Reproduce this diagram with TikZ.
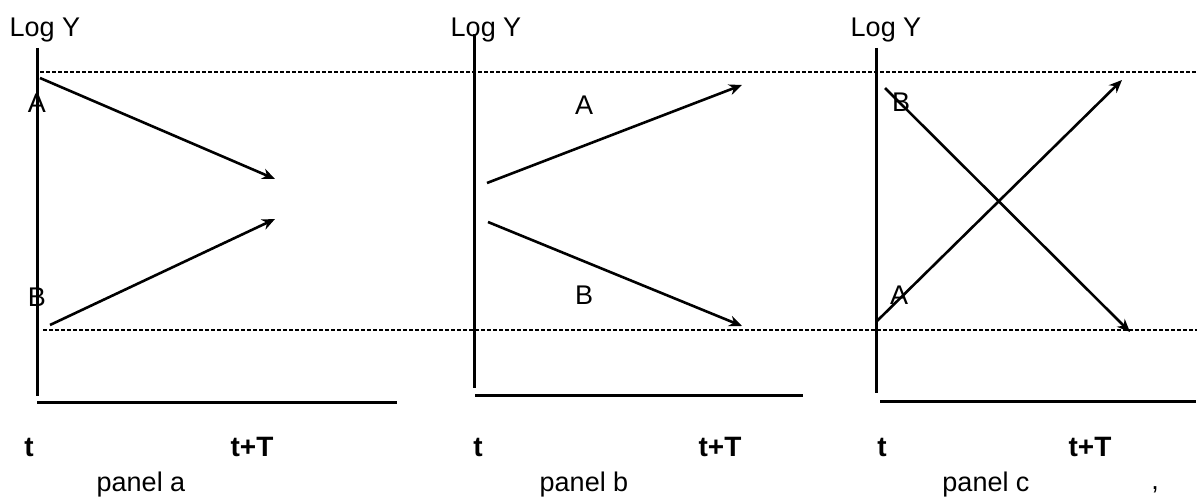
\documentclass[tikz,border=0pt]{standalone}
\usepackage{fontspec}
\setmainfont{Liberation Sans}
\usetikzlibrary{arrows.meta}
\begin{document}
\begin{tikzpicture}[x=1pt,y=-1pt,
  axis/.style={line width=3pt},
  guide/.style={line width=1.8pt,dash pattern=on 3.5pt off 2.5pt},
  trend/.style={line width=2.6pt,-{Stealth[length=13pt,width=11pt]}},
  lbl/.style={inner sep=0pt,font=\fontsize{27}{30}\selectfont},
  tlbl/.style={inner sep=0pt,font=\fontsize{28}{30}\selectfont\bfseries}]
\useasboundingbox (0,0) rectangle (1197,500);
% guide lines
\coordinate (g1s) at (40,72);  \coordinate (g1e) at (1197,72);
\coordinate (g2s) at (43,330); \coordinate (g2e) at (1197,330);
\draw[guide] (g1s) -- (g1e);
\draw[guide] (g2s) -- (g2e);
% panel a
\coordinate (ay0) at (37,48);  \coordinate (ay1) at (37,396);
\coordinate (ax0) at (37,402); \coordinate (ax1) at (397,402);
\draw[axis] (ay0) -- (ay1);
\draw[axis] (ax0) -- (ax1);
\coordinate (aA0) at (40,78);  \coordinate (aA1) at (275,179);
\coordinate (aB0) at (50,325); \coordinate (aB1) at (275,219);
\draw[trend] (aA0) -- (aA1);
\draw[trend] (aB0) -- (aB1);
\node[lbl] (aLog) at (45,30) {Log Y};
\node[lbl] (aA) at (37,103) {A};
\node[lbl] (aB) at (37,297) {B};
\node[tlbl] (at) at (29,447) {t};
\node[tlbl] (atT) at (252,447) {t+T};
\node[lbl] (ap) at (141,485) {panel a};
% panel b
\coordinate (by0) at (474,34);  \coordinate (by1) at (474,388);
\coordinate (bx0) at (475,395); \coordinate (bx1) at (803,395);
\draw[axis] (by0) -- (by1);
\draw[axis] (bx0) -- (bx1);
\coordinate (bA0) at (487,183); \coordinate (bA1) at (742,85);
\coordinate (bB0) at (488,222); \coordinate (bB1) at (742,326);
\draw[trend] (bA0) -- (bA1);
\draw[trend] (bB0) -- (bB1);
\node[lbl] (bLog) at (486,30) {Log Y};
\node[lbl] (bA) at (584,105) {A};
\node[lbl] (bB) at (584,295) {B};
\node[tlbl] (bt) at (478,447) {t};
\node[tlbl] (btT) at (720,447) {t+T};
\node[lbl] (bp) at (584,485) {panel b};
% panel c
\coordinate (cy0) at (876,48);  \coordinate (cy1) at (876,393);
\coordinate (cx0) at (880,401); \coordinate (cx1) at (1196,401);
\draw[axis] (cy0) -- (cy1);
\draw[axis] (cx0) -- (cx1);
\coordinate (cA0) at (877,321); \coordinate (cA1) at (1122,80);
\coordinate (cB0) at (885,88);  \coordinate (cB1) at (1130,332);
\draw[trend] (cA0) -- (cA1);
\draw[trend] (cB0) -- (cB1);
\node[lbl] (cLog) at (886,30) {Log Y};
\node[lbl] (cB) at (901,102) {B};
\node[lbl] (cA) at (899,295) {A};
\node[tlbl] (ct) at (882,447) {t};
\node[tlbl] (ctT) at (1090,447) {t+T};
\node[lbl] (cp) at (986,485) {panel c};
\node[lbl] (comma) at (1155,490) {,};
\end{tikzpicture}
\end{document}
